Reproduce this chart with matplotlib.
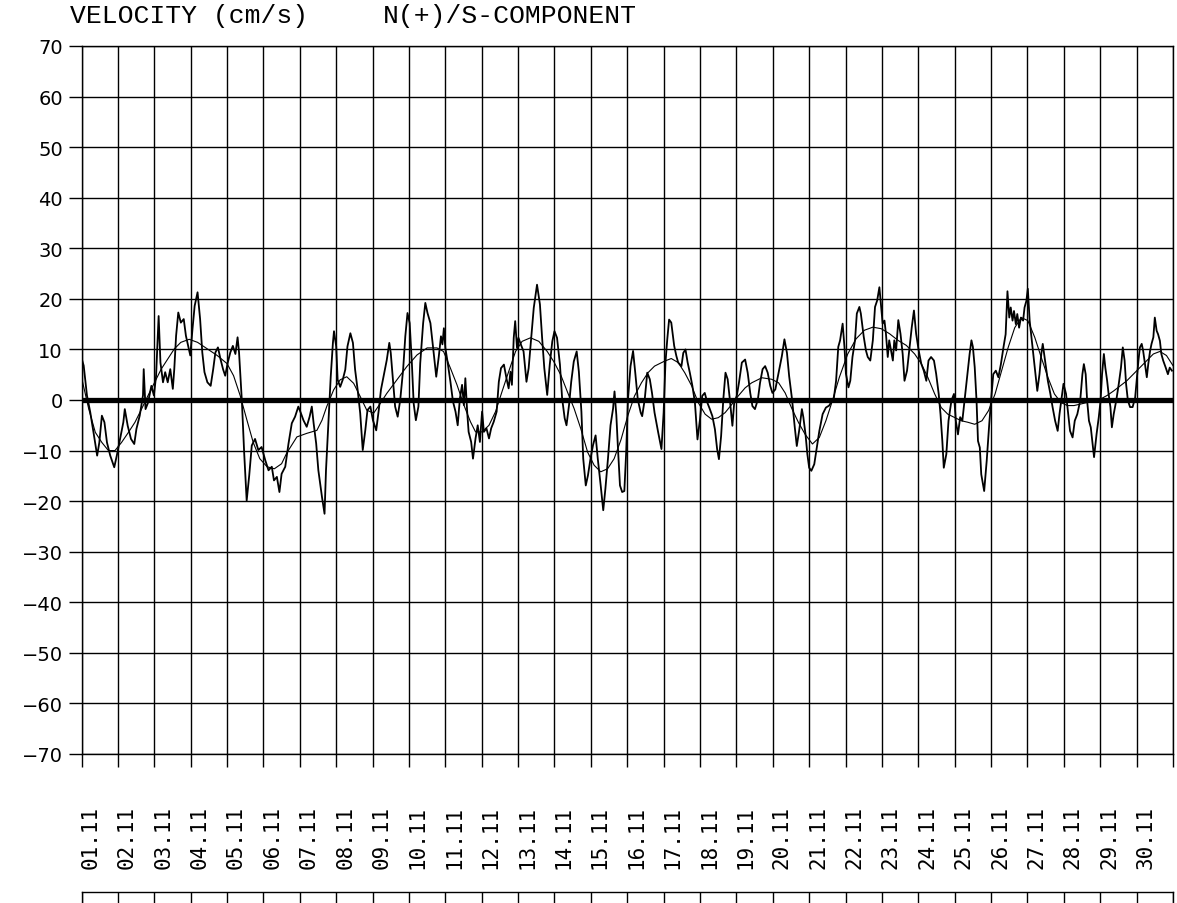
import numpy as np
import matplotlib.pyplot as plt
from matplotlib.transforms import ScaledTranslation

# days since 01.11 00:00, velocity in cm/s
noisy_day = [0.02, 0.06, 0.15, 0.24, 0.33, 0.43, 0.49, 0.56, 0.63, 0.70, 0.79, 0.90, 0.97,
             1.06, 1.15, 1.19, 1.27, 1.36, 1.45, 1.51, 1.60, 1.69, 1.71, 1.76, 1.83, 1.92, 1.99,
             2.05, 2.12, 2.17, 2.24, 2.30, 2.37, 2.44, 2.51, 2.55, 2.60, 2.66, 2.73, 2.81, 2.87,
             2.93, 2.99, 3.05, 3.11, 3.19, 3.26, 3.32, 3.38, 3.46, 3.55, 3.62, 3.68, 3.75, 3.82,
             3.89, 3.95, 4.02, 4.09, 4.16, 4.23, 4.29, 4.33, 4.41, 4.47, 4.54, 4.61, 4.68, 4.77,
             4.86, 4.95, 5.05, 5.14, 5.23, 5.29, 5.37, 5.44, 5.50, 5.60, 5.69, 5.78, 5.87, 5.96,
             6.03, 6.10, 6.19, 6.27, 6.33, 6.38, 6.45, 6.51, 6.61, 6.68, 6.72, 6.79, 6.85, 6.91,
             6.94, 7.00, 7.04, 7.11, 7.18, 7.25, 7.31, 7.39, 7.46, 7.52, 7.59, 7.66, 7.73, 7.80,
             7.86, 7.94, 8.01, 8.10, 8.17, 8.23, 8.30, 8.39, 8.46, 8.50, 8.56, 8.62, 8.69, 8.76,
             8.84, 8.90, 8.96, 9.02, 9.08, 9.13, 9.19, 9.26, 9.31, 9.39, 9.45, 9.51, 9.59, 9.63,
             9.68, 9.75, 9.82, 9.88, 9.92, 9.96, 10.00,
             10.06, 10.14, 10.21, 10.28, 10.34, 10.40, 10.46, 10.51, 10.55, 10.60, 10.64, 10.71,
             10.76, 10.83, 10.89, 10.95, 11.01, 11.06, 11.13, 11.20, 11.26, 11.33, 11.41, 11.47,
             11.53, 11.61, 11.68, 11.74, 11.79, 11.83, 11.88, 11.92, 11.97, 12.01, 12.08, 12.15,
             12.23, 12.29, 12.36, 12.43, 12.52, 12.60, 12.66, 12.72, 12.80, 12.87, 12.94, 13.00,
             13.07, 13.15, 13.21, 13.28, 13.33, 13.40, 13.46, 13.53, 13.61, 13.67, 13.74, 13.79,
             13.86, 13.92, 13.99, 14.06, 14.13, 14.19, 14.27, 14.34, 14.40, 14.47, 14.54, 14.61,
             14.65, 14.70, 14.74, 14.80, 14.86,
             14.92, 14.97, 15.02, 15.09, 15.16, 15.22, 15.29, 15.37, 15.41, 15.48, 15.55, 15.62,
             15.68, 15.75, 15.85, 15.94, 16.00, 16.05, 16.10, 16.15, 16.21, 16.29, 16.35, 16.40,
             16.49, 16.54, 16.60, 16.66, 16.72, 16.79, 16.86, 16.93, 17.00, 17.06, 17.13, 17.20,
             17.27, 17.34, 17.41, 17.47, 17.52, 17.58, 17.64, 17.70, 17.76, 17.82, 17.89, 17.94,
             18.01, 18.07, 18.15, 18.24, 18.31, 18.38, 18.44, 18.51, 18.59, 18.65, 18.72, 18.79,
             18.86, 18.93, 18.99, 19.07, 19.16, 19.25, 19.32, 19.39, 19.45, 19.53, 19.60, 19.66,
             19.73, 19.80,
             19.84, 19.90, 19.95, 20.00, 20.06, 20.14, 20.21, 20.28, 20.37, 20.46, 20.55, 20.60,
             20.67, 20.74, 20.80, 20.85, 20.92, 20.97, 21.01, 21.08, 21.13, 21.19, 21.26, 21.31,
             21.38, 21.42, 21.50, 21.56, 21.61, 21.68, 21.75, 21.81, 21.87, 21.93, 21.98, 22.02,
             22.07, 22.11, 22.16, 22.20, 22.25, 22.30, 22.34, 22.39, 22.45, 22.51, 22.57, 22.62,
             22.69, 22.76, 22.82, 22.88, 22.94, 23.01, 23.08, 23.15, 23.22, 23.28, 23.35, 23.43,
             23.49, 23.56, 23.61, 23.66, 23.70, 23.77, 23.83, 23.91, 23.98, 24.03, 24.09, 24.15,
             24.21, 24.27, 24.35, 24.41, 24.46, 24.50, 24.55, 24.60, 24.64, 24.69, 24.73, 24.81,
             24.88, 24.95, 25.00, 25.06, 25.13, 25.20, 25.27, 25.34, 25.40, 25.45, 25.50, 25.54,
             25.59, 25.63, 25.68, 25.72, 25.77, 25.82, 25.88, 25.92, 25.97, 26.01, 26.06, 26.12,
             26.20, 26.27, 26.33, 26.38, 26.42, 26.47, 26.51, 26.56, 26.63, 26.69, 26.76, 26.83,
             26.88, 26.94, 26.99, 27.06, 27.12, 27.17, 27.24, 27.30, 27.37, 27.45, 27.51, 27.55,
             27.60, 27.64, 27.69, 27.74, 27.78, 27.83, 27.90, 27.96, 28.01, 28.05, 28.10, 28.14,
             28.19, 28.23, 28.28, 28.32, 28.37, 28.44, 28.51, 28.57, 28.62, 28.67, 28.71, 28.76,
             28.82, 28.89, 28.96, 29.00, 29.05, 29.09, 29.14, 29.18, 29.23, 29.28, 29.32, 29.37,
             29.41, 29.46, 29.50, 29.55, 29.59, 29.64, 29.68, 29.73, 29.80, 29.86, 29.91, 29.97]
noisy_val = [7.8, 6.8, 0.9, -2.4, -6.4, -11.0, -8.4, -3.1, -4.4, -8.4, -11.0, -13.3, -11.0,
             -7.7, -4.4, -1.8, -5.1, -7.7, -8.7, -5.7, -3.1, 0.9, 6.1, -1.8, -0.5, 2.8, 0.9,
             4.8, 16.6, 7.4, 3.5, 5.5, 3.5, 6.1, 2.2, 6.1, 12.7, 17.3, 15.3, 16.0, 12.7,
             10.7, 8.8, 14.0, 18.6, 21.3, 16.0, 9.4, 5.5, 3.5, 2.8, 6.1, 9.4, 10.4, 8.1,
             6.1, 4.8, 7.4, 9.4, 10.7, 9.1, 12.4, 9.4, -0.5, -10.3, -19.9, -14.9, -9.0, -7.7,
             -9.9, -9.3, -11.9, -13.9, -13.2, -15.9, -15.2, -18.2, -14.6, -13.2, -8.6, -4.6, -3.3, -1.3,
             -2.6, -4.0, -5.3, -3.3, -1.3, -4.6, -8.6, -13.9, -19.2, -22.5, -13.9, -4.0, 4.6, 11.3,
             13.6, 10.6, 4.0, 2.6, 4.0, 6.0, 10.6, 13.2, 11.3, 6.0, 2.0, -2.6, -9.9, -6.0,
             -2.0, -1.3, -4.0, -6.0, -2.0, 2.0, 4.6, 7.9, 11.3, 9.3, 4.0, -1.3, -3.3, 0.0,
             6.0, 12.6, 17.2, 15.2, 7.3, -0.7, -4.0, -1.3, 7.3, 15.2, 19.2, 17.2, 15.2, 12.6,
             9.3, 4.6, 8.6, 12.6, 11.0, 14.2, 10.3,
             7.6, 3.6, -0.3, -2.3, -5.0, 0.3, 3.0, -1.0, 4.3, -2.3, -6.3, -8.3,
             -11.6, -7.6, -5.0, -8.3, -2.3, -6.3, -5.6, -7.6, -5.6, -4.3, -2.3, 3.6,
             6.3, 7.0, 4.3, 2.3, 5.6, 3.0, 12.3, 15.6, 10.3, 12.3, 10.9, 9.6,
             3.6, 6.3, 12.3, 18.2, 22.8, 18.9, 12.3, 6.3, 1.0, 7.0, 11.6, 13.6,
             12.3, 7.0, 0.3, -3.6, -5.0, -1.0, 3.6, 7.6, 9.6, 5.6, -2.3, -11.6,
             -16.9, -14.9, -11.6, -8.9, -7.0, -11.6, -16.9, -21.8, -17.5, -11.6, -5.0, -1.7,
             1.7, -3.0, -8.9, -16.9, -18.2,
             -18.0, -10.4, 0.1, 6.7, 9.7, 5.4, 0.1, -2.5, -3.2, 0.1, 5.4, 4.1,
             1.4, -2.5, -6.4, -9.7, -2.5, 7.4, 12.0, 15.9, 15.3, 10.7, 8.7, 7.4,
             6.7, 9.3, 10.0, 7.4, 5.4, 2.8, -0.5, -7.8, -3.8, 0.8, 1.4, -0.5,
             -1.8, -3.2, -5.8, -9.7, -11.7, -7.1, 0.1, 5.4, 4.1, 0.1, -5.1, -0.5,
             0.8, 3.4, 7.4, 8.0, 5.4, 1.4, -1.2, -1.8, 0.1, 3.4, 6.1, 6.7,
             5.4, 2.8, 1.4, 2.1, 5.4, 8.7, 12.0, 9.3, 4.7, 0.1, -5.1, -9.1,
             -5.8, -1.8,
             -3.4, -6.8, -10.7, -13.4, -14.0, -12.7, -9.4, -6.1, -2.8, -1.5, -1.1, -0.5,
             -0.1, 3.8, 10.5, 11.8, 15.1, 10.5, 5.2, 2.5, 3.8, 8.5, 11.8, 17.1,
             18.4, 17.1, 12.5, 9.8, 8.5, 7.8, 11.8, 18.4, 19.7, 22.3, 18.4, 15.1,
             15.7, 13.1, 8.5, 11.8, 9.8, 7.8, 11.8, 9.8, 15.8, 13.1, 9.1, 3.8,
             5.8, 10.5, 14.4, 17.7, 13.1, 9.8, 7.2, 5.8, 3.8, 7.8, 8.5, 7.8,
             5.2, 1.2, -2.8, -8.1, -13.4, -10.7, -4.1, -0.1, 1.2, -4.1, -6.8, -3.4,
             -4.1, -0.1, 5.2, 9.1, 11.8, 10.5, 6.5, -0.1, -8.1, -9.4, -14.7, -18.0,
             -12.0, -4.7, -0.1, 5.1, 5.8, 4.5, 7.1, 10.4, 13.0, 21.5, 16.3, 18.3,
             15.7, 17.6, 15.0, 17.0, 14.3, 16.3, 15.7, 18.3, 19.6, 22.0, 15.7, 11.7,
             6.4, 1.8, 5.1, 9.1, 11.1, 8.4, 6.4, 3.8, 1.2, -1.4, -4.1, -6.1,
             -2.8, 0.5, 3.2, 1.2, -2.8, -6.1, -7.4, -4.1, -2.8, -0.1, 5.1, 7.1,
             5.1, -0.1, -4.1, -5.4, -8.0, -11.3, -6.7, -3.4, -0.1, 5.1, 9.1, 6.4,
             3.8, 1.2, -1.4, -5.4, -2.8, -0.1, 3.2, 6.4, 10.4, 7.8, 3.2, -0.1,
             -1.4, -1.4, 0.5, 3.8, 7.8, 10.4, 11.1, 9.7, 7.1, 4.5, 7.1, 9.7,
             11.1, 12.4, 16.3, 13.7, 13.0, 11.7, 9.1, 7.8, 6.4, 5.1, 6.4, 5.8]

smooth_day = [0.00, 0.20, 0.38, 0.56, 0.74, 0.92, 1.10, 1.29, 1.47, 1.65, 1.83, 2.01, 2.19,
              2.37, 2.55, 2.73, 2.96, 3.19, 3.46, 3.73, 4.00, 4.18, 4.36, 4.54, 4.72, 4.90,
              5.10, 5.30, 5.50, 5.64, 5.92, 6.19, 6.47, 6.61, 6.74, 6.93, 7.11, 7.29, 7.48,
              7.66, 7.84, 8.03, 8.21, 8.39, 8.67, 8.94, 9.22, 9.50, 9.77, 9.95, 10.14, 10.32,
              10.51, 10.69, 10.83, 11.01, 11.20, 11.38, 11.56, 11.74, 11.93, 12.11, 12.34,
              12.57, 12.80, 12.98, 13.17, 13.35, 13.54, 13.72, 13.91, 14.09, 14.27, 14.46,
              14.64, 14.83, 15.02, 15.20, 15.39, 15.57, 15.75, 16.03, 16.21, 16.40, 16.58,
              16.77, 16.95, 17.14, 17.32, 17.50, 17.69, 17.87, 18.05, 18.24, 18.42, 18.70,
              18.97, 19.16, 19.34, 19.53, 19.71, 19.89, 20.09, 20.28, 20.46, 20.64, 20.83,
              21.06, 21.29, 21.52, 21.75, 21.98, 22.21, 22.44, 22.67, 22.90, 23.08, 23.26,
              23.45, 23.63, 23.81, 23.98, 24.18, 24.36, 24.55, 24.75, 24.93, 25.11, 25.29,
              25.47, 25.65, 25.83, 26.01, 26.20, 26.38, 26.56, 26.74, 26.92, 27.10, 27.28,
              27.46, 27.64, 27.83, 28.01, 28.19, 28.37, 28.55, 28.73, 28.91, 29.09, 29.28,
              29.46, 29.64, 29.82, 30.00]
smooth_val = [4.5, -1.8, -6.4, -8.4, -10.0, -10.0, -8.4, -6.4, -4.4, -1.8, 0.9, 3.5, 6.1,
              8.1, 10.1, 11.4, 12.0, 11.4, 10.1, 8.8, 7.2, 4.8, 0.9, -3.8, -8.4, -11.6,
              -13.2, -13.6, -12.6, -10.5, -7.3, -6.6, -6.0, -4.0, -1.3, 2.0, 4.0, 4.6, 3.3,
              0.7, -2.0, -2.6, -0.7, 1.3, 4.0, 6.6, 8.9, 10.3, 10.3, 9.6, 6.3, 3.0,
              -1.0, -4.3, -6.3, -6.3, -5.0, -2.3, 1.7, 5.6, 9.6, 11.6, 12.3,
              11.6, 9.6, 7.6, 5.0, 1.7, -1.7, -5.6, -10.3, -12.9, -14.2, -13.6,
              -11.6, -7.8, -3.0, 0.8, 3.4, 5.4, 6.7, 7.7, 8.2, 7.4, 5.4,
              2.8, -0.5, -2.8, -3.8, -3.5, -2.5, -0.9, 0.8, 2.4, 3.4, 4.4,
              4.1, 3.4, 1.4, -1.8, -4.5, -6.8, -8.7, -7.4, -4.1, -0.1, 4.5,
              9.1, 12.1, 13.8, 14.4, 14.1, 13.1, 11.8, 10.8, 9.1, 7.2, 4.5,
              1.2, -1.5, -2.8, -3.4, -4.1, -4.4, -4.8, -4.1, -2.1, 1.2, 5.8,
              10.4, 14.3, 16.3, 15.7, 12.4, 8.4, 4.5, 1.2, -0.5, -1.1, -1.1,
              -0.8, -0.5, -0.1, 0.2, 0.9, 1.8, 2.8, 3.8, 5.1, 6.4, 7.8,
              9.1, 9.6, 8.8, 6.8]

day_labels = ["%02d.11" % d for d in range(1, 31)]
y_ticks = list(range(-70, 71, 10))

W, H = 1177, 904
fig = plt.figure(figsize=(W / 100, H / 100), dpi=100)
ax = fig.add_axes([81.5 / W, 1 - 755 / H, (1173 - 81.5) / W, (755 - 47) / H])

ax.plot(noisy_day, noisy_val, color="black", lw=1.3, zorder=3)
ax.plot(smooth_day, smooth_val, color="black", lw=0.8, zorder=3)
ax.axhline(0, color="black", lw=3.8, zorder=4)

ax.set_xlim(0, 30)
ax.set_ylim(-70, 70)
ax.set_xticks(range(31))
ax.set_xticklabels(day_labels + [""], rotation=90, family="DejaVu Sans Mono", fontsize=15)
ax.set_yticks(y_ticks)
ax.set_yticklabels([str(v).replace("-", "\u2212") for v in y_ticks], fontsize=14)
ax.tick_params(axis="both", direction="out", length=9.5, width=1.0, color="black")
ax.tick_params(axis="x", pad=27)
ax.tick_params(axis="y", pad=4)
ax.grid(True, color="black", lw=1.0)
for s in ax.spines.values():
    s.set_linewidth(1.0)

# shift the day labels a bit to the right of their grid lines
off = ScaledTranslation(9 / 100, 0, fig.dpi_scale_trans)
for lab in ax.get_xticklabels():
    lab.set_transform(lab.get_transform() + off)

# top of the next panel, cut off at the bottom of the page
ax2 = fig.add_axes([81.5 / W, -0.1, (1173 - 81.5) / W, 0.1 + 11 / H])
ax2.set_xlim(0, 30)
ax2.set_ylim(0, 1)
ax2.set_xticks(range(31))
ax2.set_yticks([])
ax2.tick_params(axis="x", length=0, labelbottom=False)
ax2.grid(True, axis="x", color="black", lw=1.0)
for s in ax2.spines.values():
    s.set_linewidth(1.0)

fig.text(70 / W, 1 - 16 / H, "VELOCITY (cm/s)", family="Liberation Mono", fontsize=19, va="center")
fig.text(383 / W, 1 - 16 / H, "N(+)/S-COMPONENT", family="Liberation Mono", fontsize=19, va="center")

fig.savefig("out.png", dpi=100)
